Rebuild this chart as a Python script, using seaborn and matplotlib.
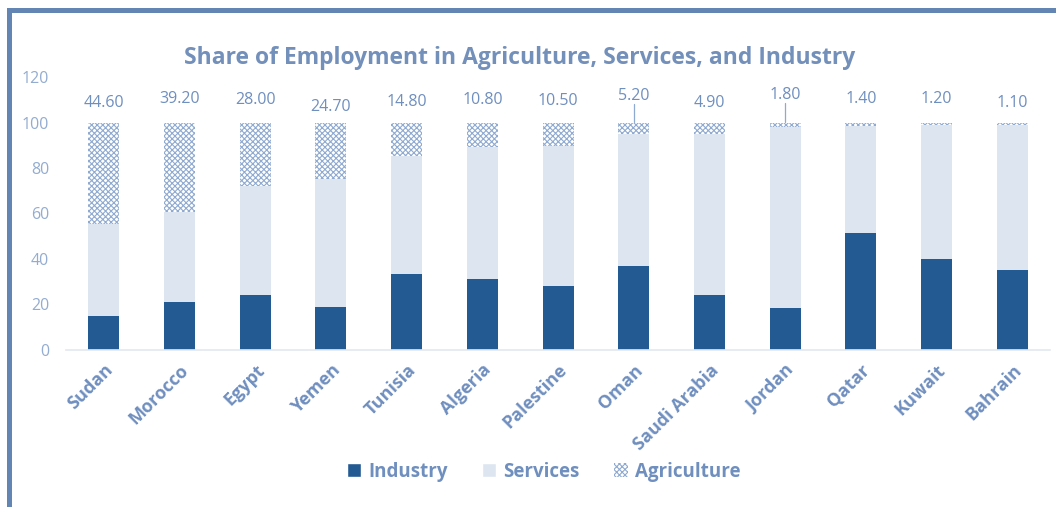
# Share of employment by sector - stacked bars
import numpy as np
import pandas as pd
import matplotlib
matplotlib.use("Agg")
import matplotlib.pyplot as plt
import matplotlib.patches as mpatches
import seaborn as sns

# -------------------- DATA --------------------
countries = ["Sudan", "Morocco", "Egypt", "Yemen", "Tunisia", "Algeria", "Palestine",
             "Oman", "Saudi Arabia", "Jordan", "Qatar", "Kuwait", "Bahrain"]
industry = [15.0, 21.0, 24.0, 19.0, 33.5, 31.0, 28.0, 37.0, 24.0, 18.5, 51.5, 40.0, 35.0]
services = [40.4, 39.8, 48.0, 56.3, 51.7, 58.2, 61.5, 57.8, 71.1, 79.7, 47.1, 58.8, 63.9]
agriculture = [44.6, 39.2, 28.0, 24.7, 14.8, 10.8, 10.5, 5.2, 4.9, 1.8, 1.4, 1.2, 1.1]
label_y = [108.5, 110.5, 110, 107, 109, 110, 109.5, 111.5, 108.5, 112, 110.5, 110.5, 108.5]
leader = ["Oman", "Jordan"]  # labels with a small leader line

df = pd.DataFrame({"country": countries, "Industry": industry,
                   "Services": services, "Agriculture": agriculture})
df["ind_serv"] = df["Industry"] + df["Services"]
df["total"] = df["ind_serv"] + df["Agriculture"]

# -------------------- STYLE --------------------
sns.set_theme(style="white")
plt.rcParams["font.family"] = ["Open Sans", "DejaVu Sans"]
plt.rcParams["hatch.linewidth"] = 0.8

C_IND = "#245a92"
C_SERV = "#dde6f0"
C_AGR = "#8faad0"
C_TEXT = "#6f8fbf"
C_TICK = "#93acd0"

fig = plt.figure(figsize=(10.56, 5.07), dpi=100)
ax = fig.add_axes([0.0625, 0.31, 0.932, 0.538])

# agriculture (hatched, drawn as full-height bar), then services, then industry
sns.barplot(data=df, x="country", y="total", color="white", width=0.41,
            saturation=1, ax=ax, linewidth=0)
for p in ax.patches:
    p.set_hatch("xxxxxx")
    p.set_edgecolor(C_AGR)
    p.set_linewidth(0)
sns.barplot(data=df, x="country", y="ind_serv", color=C_SERV, width=0.41,
            saturation=1, ax=ax, linewidth=0)
sns.barplot(data=df, x="country", y="Industry", color=C_IND, width=0.41,
            saturation=1, ax=ax, linewidth=0)

for i, v in enumerate(agriculture):
    ax.text(i, label_y[i], f"{v:.2f}", ha="center", va="center",
            fontsize=11.5, color=C_TEXT)
    if countries[i] in leader:
        ax.plot([i, i], [label_y[i] - 3.2, df["total"][i] + 0.4],
                color=C_AGR, lw=0.9)

ax.set_xlim(-0.5, len(countries) - 0.5)
ax.set_ylim(0, 120)
ax.set_yticks(range(0, 121, 20))
ax.set_xlabel("")
ax.set_ylabel("")
ax.tick_params(axis="y", labelsize=11.5, labelcolor=C_TICK, length=0, pad=12)
ax.tick_params(axis="x", length=0, pad=8)
ax.set_xticks(range(len(countries)))
ax.set_xticklabels(countries, rotation=45, ha="right", rotation_mode="anchor",
                   fontsize=13, fontweight="bold", color=C_TEXT)
for s in ["top", "right", "left"]:
    ax.spines[s].set_visible(False)
ax.spines["bottom"].set_color("#e3e9f1")
ax.spines["bottom"].set_linewidth(1.2)

fig.text(0.492, 0.885, "Share of Employment in Agriculture, Services, and Industry",
         ha="center", va="center", fontsize=16.5, fontweight="bold", color="#7390bb")

# legend
handles = [mpatches.Patch(facecolor=C_IND, label="Industry"),
           mpatches.Patch(facecolor=C_SERV, label="Services"),
           mpatches.Patch(facecolor="white", edgecolor=C_AGR, hatch="xxxxxx",
                          linewidth=0, label="Agriculture")]
leg = fig.legend(handles=handles, loc="center", bbox_to_anchor=(0.515, 0.07),
                 ncol=3, frameon=False, fontsize=13.5, handlelength=0.75,
                 handleheight=0.75, handletextpad=0.4, columnspacing=1.8)
for t in leg.get_texts():
    t.set_color(C_TEXT)
    t.set_fontweight("bold")

# outer frame (left and top edges)
fig.add_artist(mpatches.Rectangle((7 / 1056, 0), 5 / 1056, 1 - 8 / 507,
                                  transform=fig.transFigure, color="#6385b3", lw=0))
fig.add_artist(mpatches.Rectangle((7 / 1056, 1 - 13 / 507), 1, 5 / 507,
                                  transform=fig.transFigure, color="#6385b3", lw=0))

fig.savefig("out.png", dpi=100)
